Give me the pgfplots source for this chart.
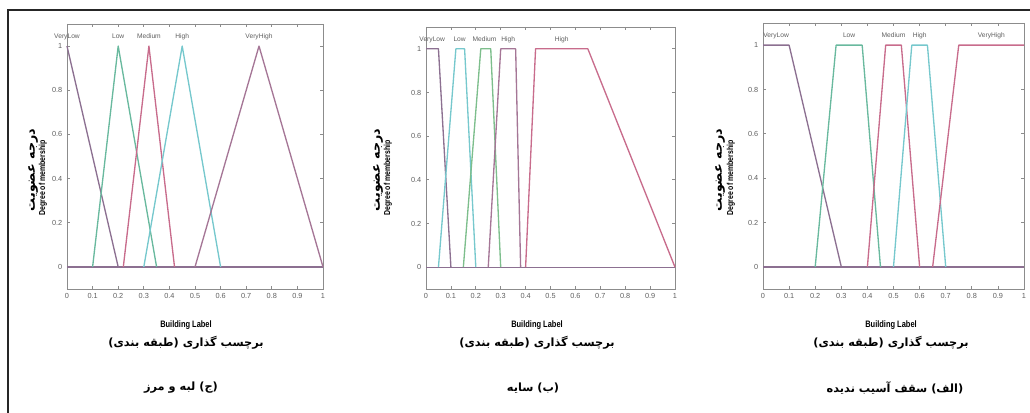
\documentclass[border=0pt]{standalone}
\usepackage{fontspec}
\setmainfont{Liberation Sans}
\newfontfamily\narrow[FakeStretch=0.8]{Liberation Sans}
\newfontfamily\arabicfont[Script=Arabic]{DejaVu Sans}
\TeXXeTstate=1
\usepackage{pgfplots}
\pgfplotsset{compat=1.18}

\definecolor{mfpurple}{RGB}{140,112,145}
\definecolor{mfteal}{RGB}{105,185,158}
\definecolor{mfpink}{RGB}{200,108,140}
\definecolor{mfcyan}{RGB}{118,200,205}
\definecolor{mfgreen}{RGB}{125,190,140}
\definecolor{mfmauve}{RGB}{165,118,150}
\definecolor{axisgray}{RGB}{140,140,140}
\definecolor{labgray}{RGB}{95,95,95}

\pgfplotsset{
  mf/.style={
    scale only axis,
    anchor=south west,
    clip=false,
    xmin=0, xmax=1, ymin=-0.1, ymax=1.1,
    xtick={0,0.1,0.2,0.3,0.4,0.5,0.6,0.7,0.8,0.9,1},
    ytick={0,0.2,0.4,0.6,0.8,1},
    tick align=inside,
    xtick pos=both, ytick pos=both,
    major tick length=2.5pt,
    axis line style={draw=axisgray, line width=0.7pt},
    tick style={draw=axisgray, line width=0.5pt},
    tick label style={font=\fontsize{5.5}{6}\selectfont, text=labgray},
    /pgf/number format/assume math mode=true,
    every axis plot/.append style={line width=1pt, line join=round},
  },
}
\tikzset{mflab/.style={font=\fontsize{5}{6}\selectfont, text=labgray, inner sep=0pt, anchor=base}}

\newcommand{\fa}[1]{\arabicfont\beginR #1\endR}

\begin{document}
\begin{tikzpicture}[x=0.75pt, y=-0.75pt]
\useasboundingbox (0,0) rectangle (1030,413);
\draw[line width=1.8pt, black!85] (8,413) -- (8,10) -- (1030,10);

% ---------- (ج) edge ----------
\begin{axis}[mf, at={(50.25pt,-216.75pt)}, width=192pt, height=198.75pt]
\addplot[mfpurple] coordinates {(0,0) (1,0)};
\addplot[mfpurple] coordinates {(0,1) (0.2,0)};
\addplot[mfteal] coordinates {(0.1,0) (0.2,1) (0.35,0)};
\addplot[mfpink] coordinates {(0.22,0) (0.32,1) (0.42,0)};
\addplot[mfcyan] coordinates {(0.3,0) (0.45,1) (0.6,0)};
\addplot[mfmauve] coordinates {(0.5,0) (0.75,1) (1,0)};
\node[mflab] at (axis cs:0,1.035) {VeryLow};
\node[mflab] at (axis cs:0.2,1.035) {Low};
\node[mflab] at (axis cs:0.32,1.035) {Medium};
\node[mflab] at (axis cs:0.45,1.035) {High};
\node[mflab] at (axis cs:0.75,1.035) {VeryHigh};
\end{axis}

% ---------- (ب) shadow ----------
\begin{axis}[mf, at={(319.5pt,-216.75pt)}, width=186.75pt, height=196.5pt]
\addplot[mfpurple] coordinates {(0,0) (1,0)};
\addplot[mfpurple] coordinates {(0,1) (0.05,1) (0.1,0)};
\addplot[mfcyan] coordinates {(0.05,0) (0.12,1) (0.155,1) (0.2,0)};
\addplot[mfgreen] coordinates {(0.15,0) (0.22,1) (0.26,1) (0.3,0)};
\addplot[mfmauve] coordinates {(0.25,0) (0.3,1) (0.36,1) (0.38,0)};
\addplot[mfpink] coordinates {(0.4,0) (0.44,1) (0.65,1) (1,0)};
\node[mflab] at (axis cs:0.025,1.035) {VeryLow};
\node[mflab] at (axis cs:0.135,1.035) {Low};
\node[mflab] at (axis cs:0.235,1.035) {Medium};
\node[mflab] at (axis cs:0.33,1.035) {High};
\node[mflab] at (axis cs:0.545,1.035) {High};
\end{axis}

% ---------- (الف) undamaged roof ----------
\begin{axis}[mf, at={(572.25pt,-216.75pt)}, width=195.75pt, height=199.5pt]
\addplot[mfpurple] coordinates {(0,0) (1,0)};
\addplot[mfpurple] coordinates {(0,1) (0.1,1) (0.3,0)};
\addplot[mfteal] coordinates {(0.2,0) (0.28,1) (0.38,1) (0.45,0)};
\addplot[mfpink] coordinates {(0.4,0) (0.47,1) (0.53,1) (0.6,0)};
\addplot[mfcyan] coordinates {(0.5,0) (0.57,1) (0.63,1) (0.7,0)};
\addplot[mfpink] coordinates {(0.65,0) (0.75,1) (1,1)};
\node[mflab] at (axis cs:0.05,1.035) {VeryLow};
\node[mflab] at (axis cs:0.33,1.035) {Low};
\node[mflab] at (axis cs:0.5,1.035) {Medium};
\node[mflab] at (axis cs:0.6,1.035) {High};
\node[mflab] at (axis cs:0.875,1.035) {VeryHigh};
\end{axis}

% ---------- y labels ----------
\foreach \xa/\xe in {33/43, 378/388, 720/731}{
  \node[rotate=90, inner sep=0pt, font=\fontsize{9.5}{10}\selectfont\bfseries] at (\xa,170) {\fa{درجه عضویت}};
  \node[rotate=90, inner sep=0pt, font=\narrow\fontsize{6.5}{7}\selectfont\bfseries] at (\xe,178) {Degree of membership};
}

% ---------- x labels and captions ----------
\foreach \xc in {186, 537, 891}{
  \node[inner sep=0pt, font=\narrow\fontsize{7}{8}\selectfont\bfseries] at (\xc,325) {Building Label};
  \node[inner sep=0pt, font=\fontsize{8.5}{10}\selectfont\bfseries] at (\xc,343) {\fa{برچسب گذاری (طبقه بندی)}};
}
\node[inner sep=0pt, font=\fontsize{8.5}{10}\selectfont\bfseries] at (181,388) {\fa{(ج) لبه و مرز}};
\node[inner sep=0pt, font=\fontsize{8.5}{10}\selectfont\bfseries] at (533,388) {\fa{(ب) سایه}};
\node[inner sep=0pt, font=\fontsize{8.5}{10}\selectfont\bfseries] at (895,388) {\fa{(الف) سقف آسیب ندیده}};
\end{tikzpicture}
\end{document}
